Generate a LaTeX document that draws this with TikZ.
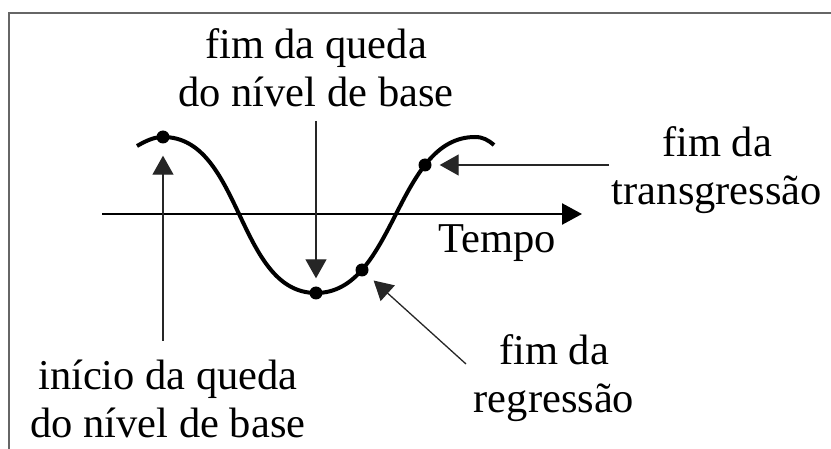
\documentclass[tikz,border=0pt]{standalone}
\usepackage{fontspec}
\setmainfont{Liberation Serif}
\usetikzlibrary{arrows.meta}

\begin{document}
\begin{tikzpicture}[x=1pt,y=-1pt,
   note/.style={align=center,anchor=base,inner sep=0pt,
      font=\fontsize{42.5}{48}\selectfont},
   dot/.style={circle,fill=black,minimum size=13pt,inner sep=0pt},
   wave/.style={line width=4pt},
   axis/.style={line width=2.5pt,-{Triangle[length=20pt,width=21pt]}},
   pointer/.style={line width=1.3pt,black!85,-{Triangle[length=19pt,width=21pt]}},
   frame/.style={line width=2pt,black!60}
]
   \useasboundingbox (0,0) rectangle (831,449);
   \draw[frame] (9,449) -- (9,13) -- (831,13);

   % time axis
   \coordinate (ax0) at (102,214);
   \coordinate (ax1) at (582,214);
   \draw[axis] (ax0) -- (ax1);

   % base level curve
   \draw[wave] (137,146) .. controls (149,139) and (156,137) .. (163,137)
      .. controls (242,137) and (237,293) .. (316,293)
      .. controls (395,293) and (396,137) .. (475,137)
      .. controls (483,137) and (488,140) .. (494,145);

   \node[dot] (d1) at (163,137) {};
   \node[dot] (d2) at (316,293) {};
   \node[dot] (d3) at (362,270) {};
   \node[dot] (d4) at (425,165) {};

   % anchor base = last line
   \node[note] (queda) at (316,107) {fim da queda\\do nível de base};
   \node[note] (transg) at (717,205) {fim da\\transgressão};
   \node[note] (tempo) at (497,253) {Tempo};
   \node[note] (regr) at (554,413) {fim da\\regressão};
   \node[note] (inicio) at (168,437) {início da queda\\do nível de base};

   \coordinate (t1) at (163,341);
   \coordinate (t2) at (316,121);
   \coordinate (t3) at (466,364);
   \coordinate (t4) at (609,165);
   \draw[pointer,shorten >=12pt] (t1) -- (d1);
   \draw[pointer,shorten >=8pt] (t2) -- (d2);
   \draw[pointer,shorten >=9pt] (t3) -- (d3);
   \draw[pointer,shorten >=8pt] (t4) -- (d4);
\end{tikzpicture}
\end{document}
